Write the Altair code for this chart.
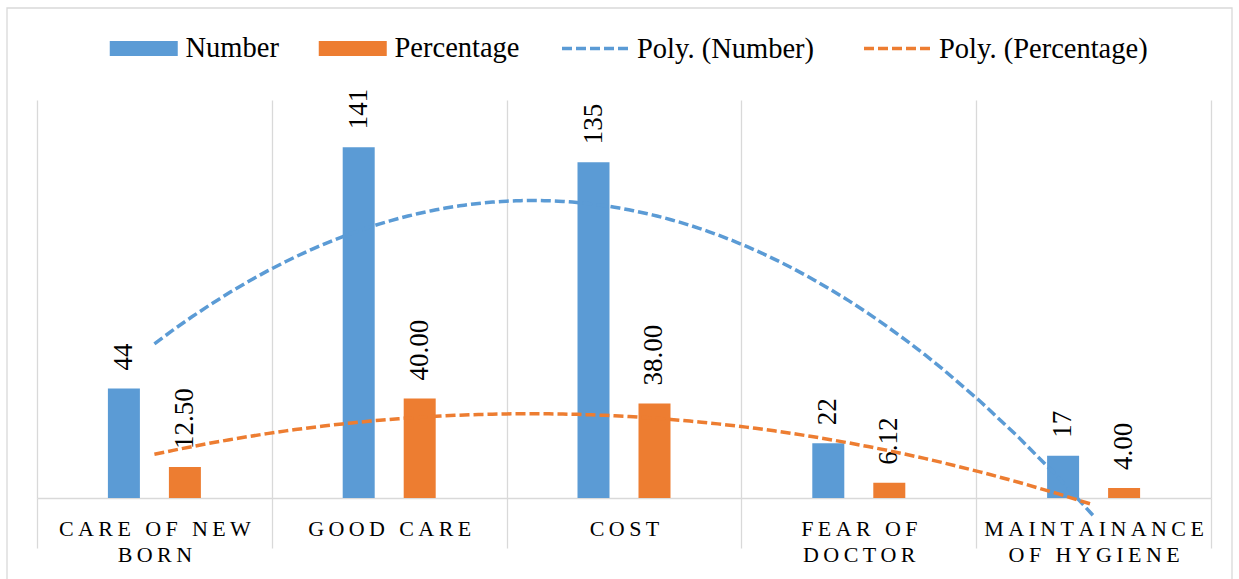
import json
import altair as alt
import pandas as pd

# ---------------- data ----------------
categories = ["CARE OF NEW BORN", "GOOD CARE", "COST", "FEAR OF DOCTOR", "MAINTAINANCE OF HYGIENE"]
label_lines = [["CARE OF NEW", "BORN"], ["GOOD CARE"], ["COST"], ["FEAR OF", "DOCTOR"], ["MAINTAINANCE", "OF HYGIENE"]]
number = [44, 141, 135, 22, 17]
percentage = [12.50, 40.00, 38.00, 6.12, 4.00]
series = ["Number", "Percentage"]
trend_names = ["Poly. (Number)", "Poly. (Percentage)"]
colors = ["#5B9BD5", "#ED7D31"]

rows = []
for i, c in enumerate(categories):
    rows.append({"cat": c, "idx": i + 1, "series": "Number", "value": number[i]})
    rows.append({"cat": c, "idx": i + 1, "series": "Percentage", "value": percentage[i]})
df = pd.DataFrame(rows)

FONT = "Liberation Serif"
W, H = 1174, 398
GRID = "#d9d9d9"

# letter-spaced, wrapped axis labels
def spaced(s):
    return "\u2009".join(s)

parts = []
for c, lines in zip(categories, label_lines):
    parts.append(f"datum.value == {json.dumps(c)} ? {json.dumps([spaced(l) for l in lines], ensure_ascii=False)}")
label_expr = " : ".join(parts) + " : datum.label"

x_band = alt.X(
    "cat:N",
    sort=categories,
    scale=alt.Scale(paddingInner=0, paddingOuter=0),
    axis=alt.Axis(
        title=None, tickBand="extent", grid=True, gridColor=GRID, gridWidth=1.3,
        domainColor=GRID, domainWidth=1.3, tickColor=GRID, tickWidth=1.3, tickSize=50,
        labelAngle=0, labelFont=FONT, labelFontSize=22, labelColor="#000",
        labelPadding=-30, labelLineHeight=26, labelExpr=label_expr, labelBaseline="top",
        labelLimit=400, labelOverlap=False,
    ),
)
x_off = alt.XOffset("series:N", sort=series,
                    scale=alt.Scale(paddingInner=0.4754, paddingOuter=0, range=[70.9, 163.9]))
y_enc = alt.Y("value:Q", scale=alt.Scale(domain=[0, 160], nice=False, zero=True), axis=None)

bars = alt.Chart(df).mark_bar().encode(
    x=x_band,
    xOffset=x_off,
    y=y_enc,
    color=alt.Color(
        "series:N",
        scale=alt.Scale(domain=series, range=colors),
        legend=alt.Legend(
            title=None, orient="none", legendX=66, legendY=-66, direction="horizontal",
            symbolType="M-1,-1H8.067V1H-1Z", symbolSize=225, symbolStrokeWidth=0,
            symbolOpacity=1, labelFont=FONT, labelFontSize=28.5, labelColor="#000",
            labelOffset=54, columnPadding=33, labelLimit=400,
        ),
    ),
)

text = alt.Chart(df).transform_calculate(
    lbl="datum.series == 'Number' ? format(datum.value, 'd') : format(datum.value, '.2f')"
).mark_text(
    angle=270, align="left", baseline="middle", dx=18, font=FONT, fontSize=27, color="#000"
).encode(x=x_band, xOffset=x_off, y=y_enc, text="lbl:N")

lines = alt.Chart(df).transform_regression(
    "idx", "value", method="poly", order=2, groupby=["series"], extent=[1, 5]
).transform_calculate(
    trend="'Poly. (' + datum.series + ')'"
).mark_line(strokeWidth=3.5, strokeDash=[10, 4]).encode(
    x=alt.X("idx:Q", scale=alt.Scale(domain=[0.5, 5.5], nice=False, zero=False), axis=None),
    y=y_enc,
    color=alt.Color(
        "trend:N",
        scale=alt.Scale(domain=trend_names, range=colors),
        legend=alt.Legend(
            title=None, orient="none", legendX=523, legendY=-88, direction="horizontal",
            symbolType="stroke", symbolSize=4761, symbolStrokeWidth=3.5, symbolDash=[10, 4],
            labelFont=FONT, labelFontSize=28.5, labelColor="#000", labelOffset=4,
            columnPadding=42, labelLimit=400,
        ),
    ),
)

border = alt.Chart(pd.DataFrame({"k": [0]})).mark_rect(
    fillOpacity=0, stroke=GRID, strokeWidth=1.3
).encode(x=alt.value(-30), x2=alt.value(1195), y=alt.value(-92), y2=alt.value(500))

chart = alt.layer(border, alt.layer(bars, text), lines).resolve_scale(
    x="independent", color="independent"
).properties(
    width=W, height=H,
    padding={"left": 37, "top": 100, "right": 28, "bottom": 81},
    autosize=alt.AutoSizeParams(type="none"),
    background="white",
).configure_view(strokeWidth=0)

chart.save("out.html", embed_options={"renderer": "svg", "actions": False})
